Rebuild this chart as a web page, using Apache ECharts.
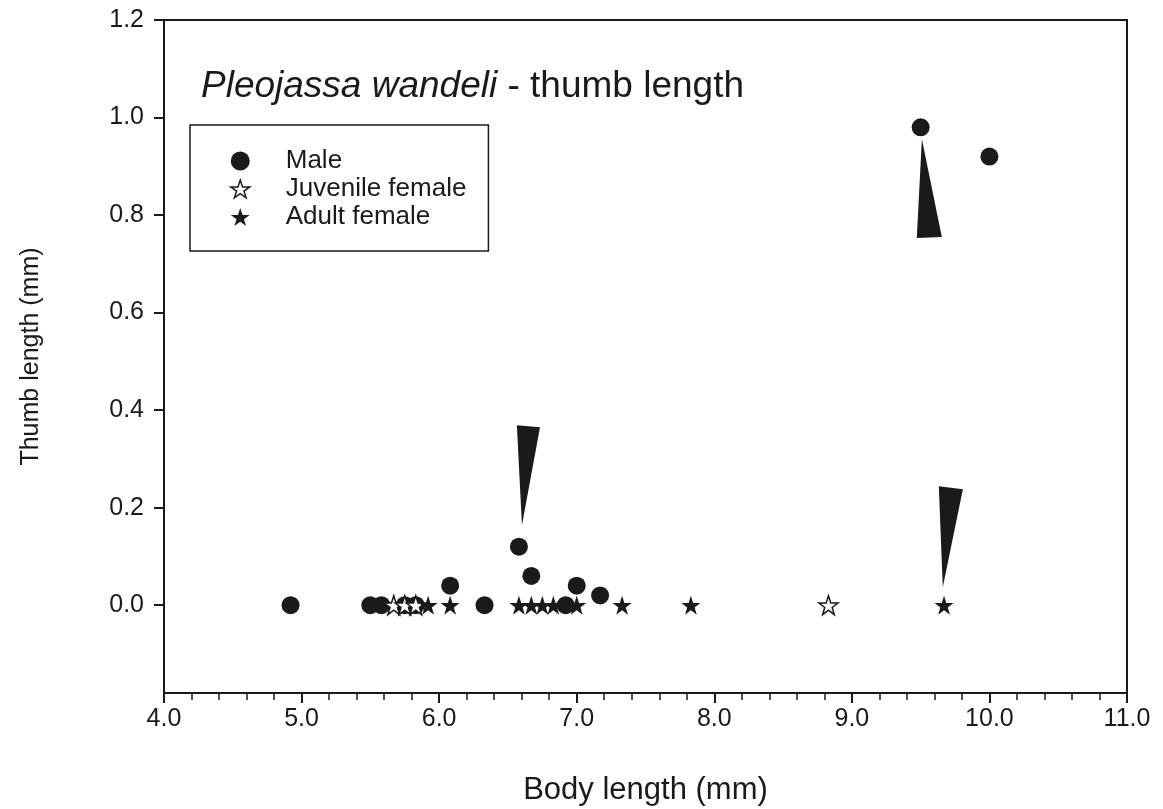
<!DOCTYPE html>
<html><head><meta charset="utf-8">
<script src="https://cdn.jsdelivr.net/npm/echarts@6/dist/echarts.min.js"></script>
<style>html,body{margin:0;padding:0;background:#fff}#c{width:1163px;height:809px}</style>
</head><body><div id="c"></div>
<script>
// ---- data ----
const maleBody  = [4.92, 5.50, 5.58, 5.75, 5.83, 6.08, 6.33, 6.58, 6.67, 6.92, 7.00, 7.17, 9.50, 10.00];
const maleThumb = [0.00, 0.00, 0.00, 0.00, 0.00, 0.04, 0.00, 0.12, 0.06, 0.00, 0.04, 0.02, 0.98, 0.92];
const juvBody   = [5.67, 5.75, 5.83, 8.83];
const juvThumb  = [0, 0, 0, 0];
const adultBody  = [5.92, 6.08, 6.58, 6.67, 6.75, 6.83, 7.00, 7.33, 7.83, 9.67];
const adultThumb = [0, 0, 0, 0, 0, 0, 0, 0, 0, 0];
const yTicks = [0.0, 0.2, 0.4, 0.6, 0.8, 1.0, 1.2];
const xTicks = [4, 5, 6, 7, 8, 9, 10, 11];
// arrow wedges (data coordinates): x1,y1,x2,y2,x3,y3
const arrows = [
  [6.565, 0.369, 6.733, 0.365, 6.602, 0.164],
  [9.632, 0.244, 9.807, 0.238, 9.661, 0.037],
  [9.509, 0.956, 9.472, 0.753, 9.654, 0.755]
];
// ---------------
const zip = (a, b) => a.map((v, i) => [v, b[i]]);
const INK = '#1a1a1a';
const FONT = 'Liberation Sans';
const STAR = 'path://M50,0 L61.8,35.1 L98.9,35.1 L69.1,56.9 L80.2,91.9 L50,70.2 L19.8,91.9 L30.9,56.9 L1.1,35.1 L38.2,35.1 Z';

const chart = echarts.init(document.getElementById('c'), null, {renderer: 'canvas'});
chart.setOption({
  animation: false,
  backgroundColor: '#fff',
  title: {
    text: '{i|Pleojassa wandeli} - thumb length',
    left: 196, top: 63,
    textStyle: {
      fontSize: 37, fontWeight: 'normal', color: INK, fontFamily: FONT,
      rich: { i: { fontStyle: 'italic', fontSize: 37, color: INK, fontFamily: FONT } }
    }
  },
  legend: {
    orient: 'vertical', left: 190, top: 125,
    data: [
      {name: 'Male', icon: 'circle', itemStyle: {color: INK}},
      {name: 'Juvenile female', icon: STAR, itemStyle: {color: '#fff', borderColor: INK, borderWidth: 1.5}},
      {name: 'Adult female', icon: STAR, itemStyle: {color: INK, borderWidth: 0}}
    ],
    itemWidth: 19, itemHeight: 19, itemGap: 2,
    padding: [23, 22, 21, 40],
    borderColor: INK, borderWidth: 1.5,
    textStyle: {fontSize: 26, lineHeight: 26, color: INK, fontFamily: FONT, padding: [0, 0, 0, 31]}
  },
  grid: {
    left: 164, right: 36, top: 20, bottom: 116,
    outerBoundsMode: 'none', containLabel: false,
    show: true, borderColor: INK, borderWidth: 2, backgroundColor: 'transparent'
  },
  xAxis: {
    type: 'value', min: 4, max: 11, interval: 1,
    name: 'Body length (mm)', nameLocation: 'middle', nameGap: 82,
    nameTextStyle: {fontSize: 31, color: INK, fontFamily: FONT},
    axisLine: {onZero: false, lineStyle: {color: INK, width: 2}},
    axisTick: {show: true, length: 10, lineStyle: {color: INK, width: 2}},
    minorTick: {show: true, splitNumber: 5, length: 7, lineStyle: {color: INK, width: 1.5}},
    axisLabel: {margin: 14, fontSize: 25, color: INK, fontFamily: FONT,
      customValues: xTicks, formatter: v => v.toFixed(1)},
    splitLine: {show: false}, minorSplitLine: {show: false}
  },
  yAxis: {
    type: 'value', min: -0.18, max: 1.2,
    name: 'Thumb length (mm)', nameLocation: 'middle', nameGap: 120, nameRotate: 90,
    nameTextStyle: {fontSize: 25, color: INK, fontFamily: FONT},
    axisLine: {show: true, onZero: false, lineStyle: {color: INK, width: 2}},
    axisTick: {show: true, length: 10, customValues: yTicks, lineStyle: {color: INK, width: 2}},
    axisLabel: {margin: 20, fontSize: 25, color: INK, fontFamily: FONT,
      customValues: yTicks, formatter: v => v.toFixed(1)},
    splitLine: {show: false}
  },
  series: [
    {
      name: 'Male', type: 'scatter', symbol: 'circle', symbolSize: 18,
      itemStyle: {color: INK, opacity: 1}, data: zip(maleBody, maleThumb), z: 2
    },
    {
      name: 'Juvenile female', type: 'scatter', symbol: STAR, symbolSize: 19,
      itemStyle: {color: '#fff', borderColor: INK, borderWidth: 1.5, opacity: 1},
      data: zip(juvBody, juvThumb), z: 3
    },
    {
      name: 'Adult female', type: 'scatter', symbol: STAR, symbolSize: 19,
      itemStyle: {color: INK, opacity: 1},
      data: zip(adultBody, adultThumb), z: 4
    },
    {
      name: 'arrows', type: 'custom', silent: true, z: 5,
      data: arrows,
      encode: {x: [0, 2, 4], y: [1, 3, 5]},
      renderItem: function (params, api) {
        const p1 = api.coord([api.value(0), api.value(1)]);
        const p2 = api.coord([api.value(2), api.value(3)]);
        const p3 = api.coord([api.value(4), api.value(5)]);
        return {type: 'polygon', shape: {points: [p1, p2, p3]}, style: {fill: INK}};
      }
    }
  ]
});
</script>
</body></html>
